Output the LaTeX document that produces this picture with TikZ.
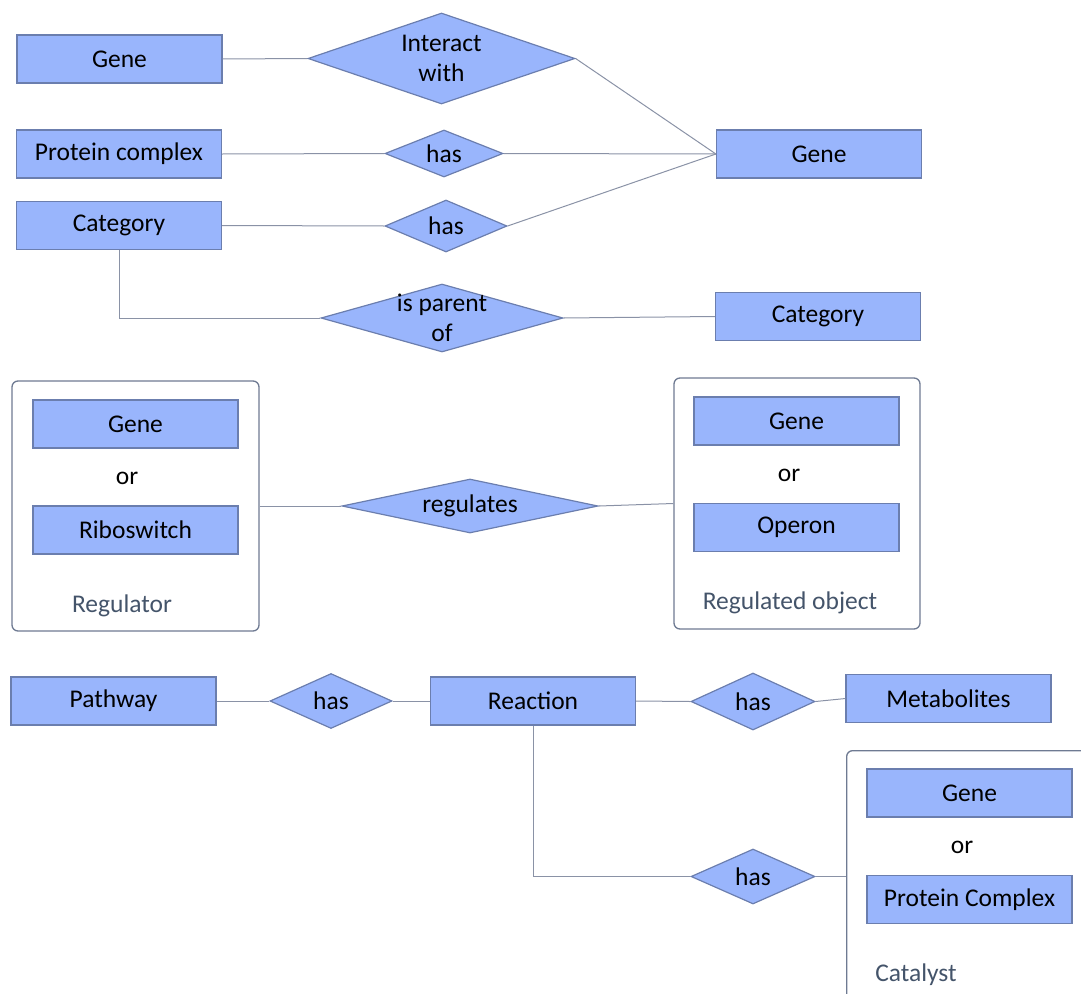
\documentclass[tikz,border=0pt]{standalone}
\usepackage{fontspec}
\setmainfont{Carlito}
\usetikzlibrary{shapes.geometric}
\definecolor{entfill}{HTML}{99B5FC}
\definecolor{entline}{HTML}{6B7EAE}
\definecolor{linkcol}{HTML}{8A92A6}
\definecolor{grpline}{HTML}{6E7A92}
\definecolor{grptext}{HTML}{44546A}
\begin{document}
\begin{tikzpicture}[x=1pt,y=-1pt,
  every node/.style={font=\fontsize{25.5}{30}\selectfont},
  ent/.style={draw=entline, fill=entfill, line width=1.2pt, minimum width=205pt, minimum height=48pt, inner sep=0pt},
  rel/.style={diamond, draw=entline, fill=entfill, line width=1.2pt, inner sep=0pt,
              label={[align=center]center:#1}},
  grp/.style={draw=grpline, rounded corners=6pt, line width=1.3pt, inner sep=0pt},
  grplabel/.style={text=grptext},
  link/.style={draw=linkcol, line width=1pt}]
\useasboundingbox (0,0) rectangle (1081,993);
\clip (0,0) rectangle (1081,993);

% --- interaction / membership / hierarchy ---
\node[ent] (geneA) at (119.5,59) {Gene};
\node[rel={Interact\\with}, minimum width=267pt, minimum height=91pt] (inter) at (441.5,58.5) {};
\node[ent] (pcx) at (119,154) {Protein complex};
\node[rel=has, minimum width=118pt, minimum height=47pt] (has1) at (444,153.5) {};
\node[ent] (geneB) at (819,154) {Gene};
\node[ent] (catA) at (119,225.5) {Category};
\node[rel=has, minimum width=122pt, minimum height=52pt] (has2) at (446,226) {};
\node[rel={is parent\\of}, minimum width=242pt, minimum height=68pt] (isp) at (442,318) {};
\node[ent] (catB) at (818,316.5) {Category};

\draw[link] (geneA.east) -- (inter.west);
\draw[link] (inter.east) -- (geneB.west);
\draw[link] (pcx.east) -- (has1.west);
\draw[link] (has1.east) -- (geneB.west);
\draw[link] (catA.east) -- (has2.west);
\draw[link] (has2.east) -- (geneB.west);
\draw[link] (catA.south) |- (isp.west);
\draw[link] (isp.east) -- (catB.west);

% --- regulation ---
\node[grp, minimum width=247pt, minimum height=250pt] (reg) at (135.5,506) {};
\node[ent] (regGene) at (135.5,424) {Gene};
\node (regOr) at (127,478) {or};
\node[ent] (ribo) at (135.5,530) {Riboswitch};
\node[grplabel] (regLbl) at (122,606) {Regulator};

\node[rel=regulates, minimum width=256pt, minimum height=54pt] (regs) at (470,506) {};

\node[grp, minimum width=246pt, minimum height=251pt] (rob) at (797,503.5) {};
\node[ent] (robGene) at (796.5,421) {Gene};
\node (robOr) at (789,475) {or};
\node[ent] (operon) at (796.5,527.5) {Operon};
\node[grplabel] (robLbl) at (790,603) {Regulated object};

\draw[link] (reg.east) -- (regs.west);
\draw[link] (regs.east) -- (rob.west);

% --- pathways and reactions ---
\node[ent] (path) at (113.5,701) {Pathway};
\node[rel=has, minimum width=122pt, minimum height=55pt] (has3) at (331,701) {};
\node[ent] (react) at (533,701) {Reaction};
\node[rel=has, minimum width=124pt, minimum height=57pt] (has4) at (753,701.5) {};
\node[ent] (metab) at (948.5,698.5) {Metabolites};

\node[grp, minimum width=260pt, minimum height=260pt, anchor=north west] (cat) at (846,750) {};
\node[ent] (catGene) at (969.5,793) {Gene};
\node (catOr) at (962,847) {or};
\node[ent] (catPc) at (969.5,899.5) {Protein Complex};
\node[grplabel] (catLbl) at (916,975) {Catalyst};

\node[rel=has, minimum width=124pt, minimum height=55pt] (has5) at (753,876.5) {};

\draw[link] (path.east) -- (has3.west);
\draw[link] (has3.east) -- (react.west);
\draw[link] (react.east) -- (has4.west);
\draw[link] (has4.east) -- (metab.west);
\draw[link] (react.south) |- (has5.west);
\draw[link] (has5.east) -- (has5.east -| cat.west);
\end{tikzpicture}
\end{document}
